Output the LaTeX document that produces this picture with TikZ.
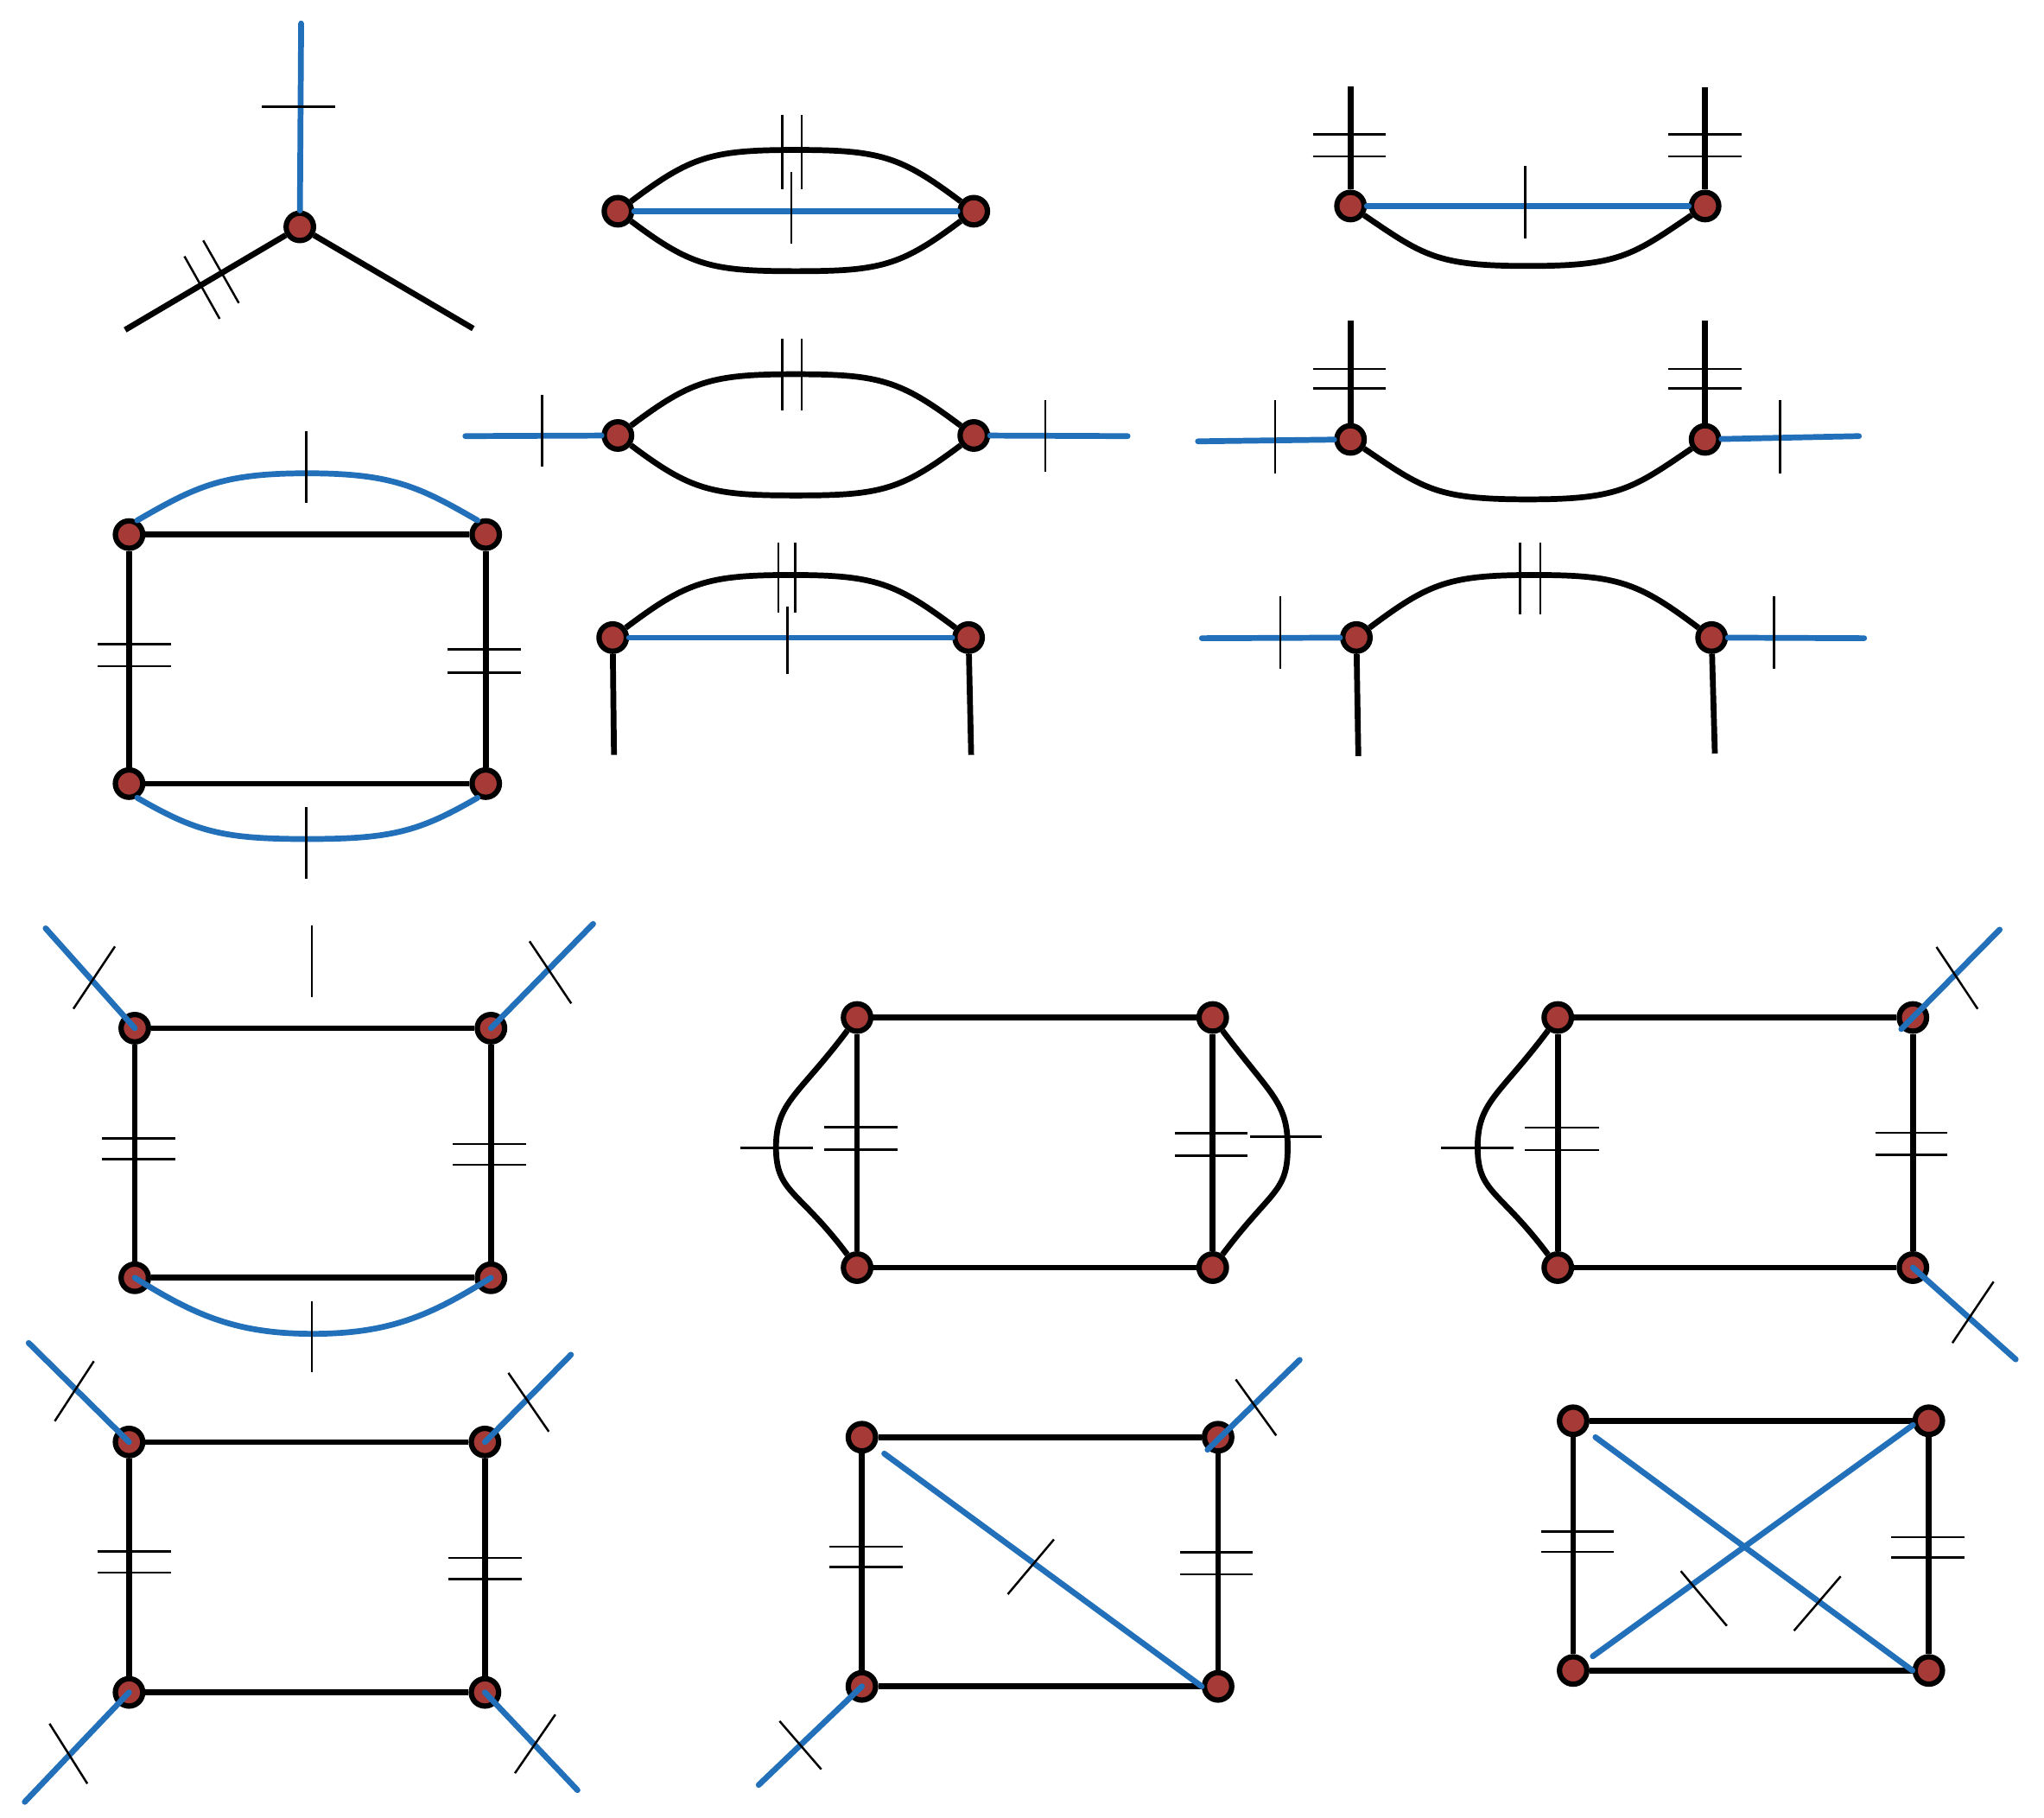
\documentclass[tikz,border=0pt]{standalone}
\usepackage{tikz}
\definecolor{vred}{RGB}{166,58,54}
\definecolor{pblue}{RGB}{35,112,186}

\begin{document}
\begin{tikzpicture}[
    x = 0.015cm, y = -0.015cm,
    vtx/.style = {circle, draw, line width=1.75pt, fill=vred,
        minimum size=3.15mm, inner sep=0pt},
    blk/.style = {line width=1.9pt},
    blu/.style = {line width=1.9pt, pblue, line cap=round},
    tk/.style = {line width=0.7pt}
  ]
  \path[use as bounding box, fill=white] (0,0) rectangle (1568,1394);

  % three-leg vertex
  \node[vtx] (a0) at (230,174) {};
  \coordinate (a1) at (231,18);
  \coordinate (a2) at (96,253);
  \coordinate (a3) at (363,252);
  \draw[blk] (a0) -- (a2);
  \draw[blk] (a0) -- (a3);
  \draw[blu] (a0) -- (a1);
  \draw[tk] (201,81.7) -- (257,81.7);
  \draw[tk] (141.5,196.6) -- (168.5,244.5);
  \draw[tk] (155.9,184.4) -- (183.2,232.4);

  % two-vertex loops
  \node[vtx] (b1) at (474,162) {};
  \node[vtx] (b2) at (747,162) {};
  \draw[blk] (b1) .. controls +(56,-42) and +(-65,0) .. (610.5,115)
                  .. controls +(65,0) and +(-56,-42) .. (b2);
  \draw[blk] (b1) .. controls +(56,42) and +(-65,0) .. (610.5,208)
                  .. controls +(65,0) and +(-56,42) .. (b2);
  \draw[blu] (b1) -- (b2);
  \foreach \x in {600,615} \draw[tk] (\x,88) -- (\x,145);
  \draw[tk] (607,132) -- (607,187);

  \node[vtx] (c1) at (1036,158) {};
  \node[vtx] (c2) at (1308,158) {};
  \coordinate (c3) at (1036,66);
  \coordinate (c4) at (1308,67);
  \draw[blk] (c1) -- (c3);
  \draw[blk] (c2) -- (c4);
  \draw[blk] (c1) .. controls +(56,38) and +(-70,0) .. (1172,204)
                  .. controls +(70,0) and +(-56,38) .. (c2);
  \draw[blu] (c1) -- (c2);
  \draw[tk] (1170,127) -- (1170,183);
  \foreach \y in {103,120} {
    \draw[tk] (1007,\y) -- (1063,\y);
    \draw[tk] (1280,\y) -- (1336,\y);
  }

  \node[vtx] (d1) at (474,334) {};
  \node[vtx] (d2) at (747,334) {};
  \coordinate (d3) at (357,334.5);
  \coordinate (d4) at (865,334.5);
  \draw[blk] (d1) .. controls +(56,-42) and +(-65,0) .. (610.5,287)
                  .. controls +(65,0) and +(-56,-42) .. (d2);
  \draw[blk] (d1) .. controls +(56,42) and +(-65,0) .. (610.5,380)
                  .. controls +(65,0) and +(-56,42) .. (d2);
  \draw[blu] (d3) -- (d1);
  \draw[blu] (d2) -- (d4);
  \draw[tk] (416,303) -- (416,358);
  \draw[tk] (802,307) -- (802,362);
  \foreach \x in {600,615} \draw[tk] (\x,260) -- (\x,315);

  \node[vtx] (e1) at (1036,337) {};
  \node[vtx] (e2) at (1308,337) {};
  \coordinate (e3) at (1036,246);
  \coordinate (e4) at (1308,246);
  \coordinate (e5) at (919,338.5);
  \coordinate (e6) at (1426,334.5);
  \draw[blk] (e1) -- (e3);
  \draw[blk] (e2) -- (e4);
  \draw[blk] (e1) .. controls +(56,38) and +(-70,0) .. (1172,383)
                  .. controls +(70,0) and +(-56,38) .. (e2);
  \draw[blu] (e5) -- (e1);
  \draw[blu] (e2) -- (e6);
  \draw[tk] (978,307) -- (978,363);
  \draw[tk] (1365.5,307) -- (1365.5,363);
  \foreach \y in {283,298} {
    \draw[tk] (1007,\y) -- (1063,\y);
    \draw[tk] (1280,\y) -- (1336,\y);
  }

  \node[vtx] (f1) at (470,489) {};
  \node[vtx] (f2) at (743,489) {};
  \coordinate (f3) at (471,579);
  \coordinate (f4) at (745,579);
  \draw[blk] (f1) -- (f3);
  \draw[blk] (f2) -- (f4);
  \draw[blk] (f1) .. controls +(56,-42) and +(-65,0) .. (606.5,441)
                  .. controls +(65,0) and +(-56,-42) .. (f2);
  \draw[blu] (f1) -- (f2);
  \foreach \x in {597,610} \draw[tk] (\x,416) -- (\x,470);
  \draw[tk] (604,465) -- (604,517);

  \node[vtx] (g1) at (1040.5,489) {};
  \node[vtx] (g2) at (1313,489) {};
  \coordinate (g3) at (1042,580);
  \coordinate (g4) at (1315.5,578);
  \coordinate (g5) at (922,489.5);
  \coordinate (g6) at (1430,489.5);
  \draw[blk] (g1) -- (g3);
  \draw[blk] (g2) -- (g4);
  \draw[blk] (g1) .. controls +(56,-42) and +(-65,0) .. (1176.75,441)
                  .. controls +(65,0) and +(-56,-42) .. (g2);
  \draw[blu] (g5) -- (g1);
  \draw[blu] (g2) -- (g6);
  \foreach \x in {1166,1181.5} \draw[tk] (\x,416) -- (\x,471);
  \draw[tk] (982,457.5) -- (982,513);
  \draw[tk] (1361,457.5) -- (1361,513);

  % boxes
  \node[vtx] (h1) at (99,410) {};
  \node[vtx] (h2) at (372.6,410) {};
  \node[vtx] (h3) at (99,601) {};
  \node[vtx] (h4) at (372.6,601) {};
  \draw[blk] (h1) -- (h2) -- (h4) -- (h3) -- (h1);
  \draw[blu] (h1.60) .. controls +(45,-26) and +(-65,0) .. (235.5,363)
                     .. controls +(65,0) and +(-45,-26) .. (h2.120);
  \draw[blu] (h3.-60) .. controls +(45,26) and +(-65,0) .. (235.5,643.5)
                      .. controls +(65,0) and +(-45,26) .. (h4.-120);
  \draw[tk] (235,331) -- (235,386);
  \draw[tk] (235,619) -- (235,674);
  \foreach \y in {494,511} \draw[tk] (75,\y) -- (131,\y);
  \foreach \y in {498,516} \draw[tk] (343.5,\y) -- (399.5,\y);

  \node[vtx] (i1) at (103.4,788.6) {};
  \node[vtx] (i2) at (376.6,788.6) {};
  \node[vtx] (i3) at (103.4,980) {};
  \node[vtx] (i4) at (376.6,980) {};
  \coordinate (i5) at (35,712);
  \coordinate (i6) at (455,708.6);
  \draw[blk] (i1) -- (i2) -- (i4) -- (i3) -- (i1);
  \draw[blu] (i1.center) -- (i5);
  \draw[blu] (i2.center) -- (i6);
  \draw[blu] (i3.center) .. controls +(45,28) and +(-60,0) .. (240,1023)
                         .. controls +(60,0) and +(-45,28) .. (i4.center);
  \draw[tk] (56.3,773.7) -- (88.2,725.9);
  \draw[tk] (406.2,721.9) -- (438.2,769.6);
  \draw[tk] (239.2,709.5) -- (239.2,764.7);
  \draw[tk] (239.4,998) -- (239.4,1052.4);
  \foreach \y in {873,889} \draw[tk] (78.5,\y) -- (134.5,\y);
  \foreach \y in {877.6,893.2} \draw[tk] (347.5,\y) -- (403.5,\y);

  \node[vtx] (j1) at (657.5,780.4) {};
  \node[vtx] (j2) at (930.3,780.4) {};
  \node[vtx] (j3) at (657.5,972.2) {};
  \node[vtx] (j4) at (930.3,972.2) {};
  \draw[blk] (j1) -- (j2) -- (j4) -- (j3) -- (j1);
  \draw[blk] (j1) .. controls +(-45,60) and +(0,-35) .. (595.3,880)
                  .. controls +(0,35) and +(-45,-60) .. (j3);
  \draw[blk] (j2) .. controls +(45,60) and +(0,-35) .. (987.8,880)
                  .. controls +(0,35) and +(45,-60) .. (j4);
  \draw[tk] (567.7,880.3) -- (623.4,880.3);
  \draw[tk] (959,871.8) -- (1014,871.8);
  \foreach \y in {864.4,881.6} \draw[tk] (632.4,\y) -- (688.5,\y);
  \foreach \y in {869.2,886.4} \draw[tk] (901.5,\y) -- (957.1,\y);

  \node[vtx] (k1) at (1195,780.4) {};
  \node[vtx] (k2) at (1467.4,780.4) {};
  \node[vtx] (k3) at (1195,972.2) {};
  \node[vtx] (k4) at (1467.4,972.2) {};
  \coordinate (k5) at (1534,713);
  \coordinate (k6) at (1546.3,1042.6);
  \draw[blk] (k1) -- (k2) -- (k4) -- (k3) -- (k1);
  \draw[blk] (k1) .. controls +(-45,60) and +(0,-35) .. (1133.5,880)
                  .. controls +(0,35) and +(-45,-60) .. (k3);
  \draw[blu] (k2.225) -- (k5);
  \draw[blu] (k4.center) -- (k6);
  \draw[tk] (1485.5,726.3) -- (1517.1,773.8);
  \draw[tk] (1497.7,1030) -- (1529.3,983);
  \draw[tk] (1105.4,880.3) -- (1161,880.3);
  \foreach \y in {864.7,881.9} \draw[tk] (1169.5,\y) -- (1226.4,\y);
  \foreach \y in {868.8,885.8} \draw[tk] (1438.7,\y) -- (1494,\y);

  \node[vtx] (l1) at (99,1106) {};
  \node[vtx] (l2) at (372,1106) {};
  \node[vtx] (l3) at (99,1298) {};
  \node[vtx] (l4) at (372,1298) {};
  \coordinate (l5) at (22,1030);
  \coordinate (l6) at (438,1039);
  \coordinate (l7) at (19,1382);
  \coordinate (l8) at (443,1373);
  \draw[blk] (l1) -- (l2) -- (l4) -- (l3) -- (l1);
  \draw[blu] (l1.center) -- (l5);
  \draw[blu] (l2.center) -- (l6);
  \draw[blu] (l3.center) -- (l7);
  \draw[blu] (l4.center) -- (l8);
  \draw[tk] (42,1090) -- (72,1044);
  \draw[tk] (390,1053) -- (421,1098);
  \draw[tk] (38,1322) -- (67,1368);
  \draw[tk] (395,1360) -- (426,1315);
  \foreach \y in {1190,1206} \draw[tk] (75,\y) -- (131,\y);
  \foreach \y in {1195,1211} \draw[tk] (344,\y) -- (400,\y);

  \node[vtx] (m1) at (661.2,1102.3) {};
  \node[vtx] (m2) at (934.4,1102.3) {};
  \node[vtx] (m3) at (661.2,1293.4) {};
  \node[vtx] (m4) at (934.4,1293.4) {};
  \coordinate (m5) at (997,1043);
  \coordinate (m6) at (582,1369);
  \draw[blk] (m1) -- (m2) -- (m4) -- (m3) -- (m1);
  \draw[blu, shorten <=1.3mm] (m1) -- (m4.west);
  \draw[blu] (m2.230) -- (m5);
  \draw[blu] (m3.center) -- (m6);
  \draw[tk] (773.1,1222.7) -- (808.5,1180.7);
  \draw[tk] (948,1058) -- (979,1101);
  \draw[tk] (598,1320) -- (630,1357);
  \foreach \y in {1186.2,1201.7} \draw[tk] (636,\y) -- (692.5,\y);
  \foreach \y in {1190.6,1207.6} \draw[tk] (905,\y) -- (961,\y);

  \node[vtx] (n1) at (1206.8,1089.7) {};
  \node[vtx] (n2) at (1479.6,1089.7) {};
  \node[vtx] (n3) at (1206.8,1281.2) {};
  \node[vtx] (n4) at (1479.6,1281.2) {};
  \draw[blk] (n1) -- (n2) -- (n4) -- (n3) -- (n1);
  \draw[blu, shorten <=1.3mm] (n1) -- (n4.west);
  \draw[blu, shorten <=0.9mm] (n3) -- (n2.195);
  \draw[tk] (1289.4,1205) -- (1324.7,1247);
  \draw[tk] (1376.2,1250.7) -- (1412,1209);
  \foreach \y in {1174.5,1190.4} \draw[tk] (1182,\y) -- (1238,\y);
  \foreach \y in {1179,1194.6} \draw[tk] (1451,\y) -- (1507,\y);
\end{tikzpicture}
\end{document}
